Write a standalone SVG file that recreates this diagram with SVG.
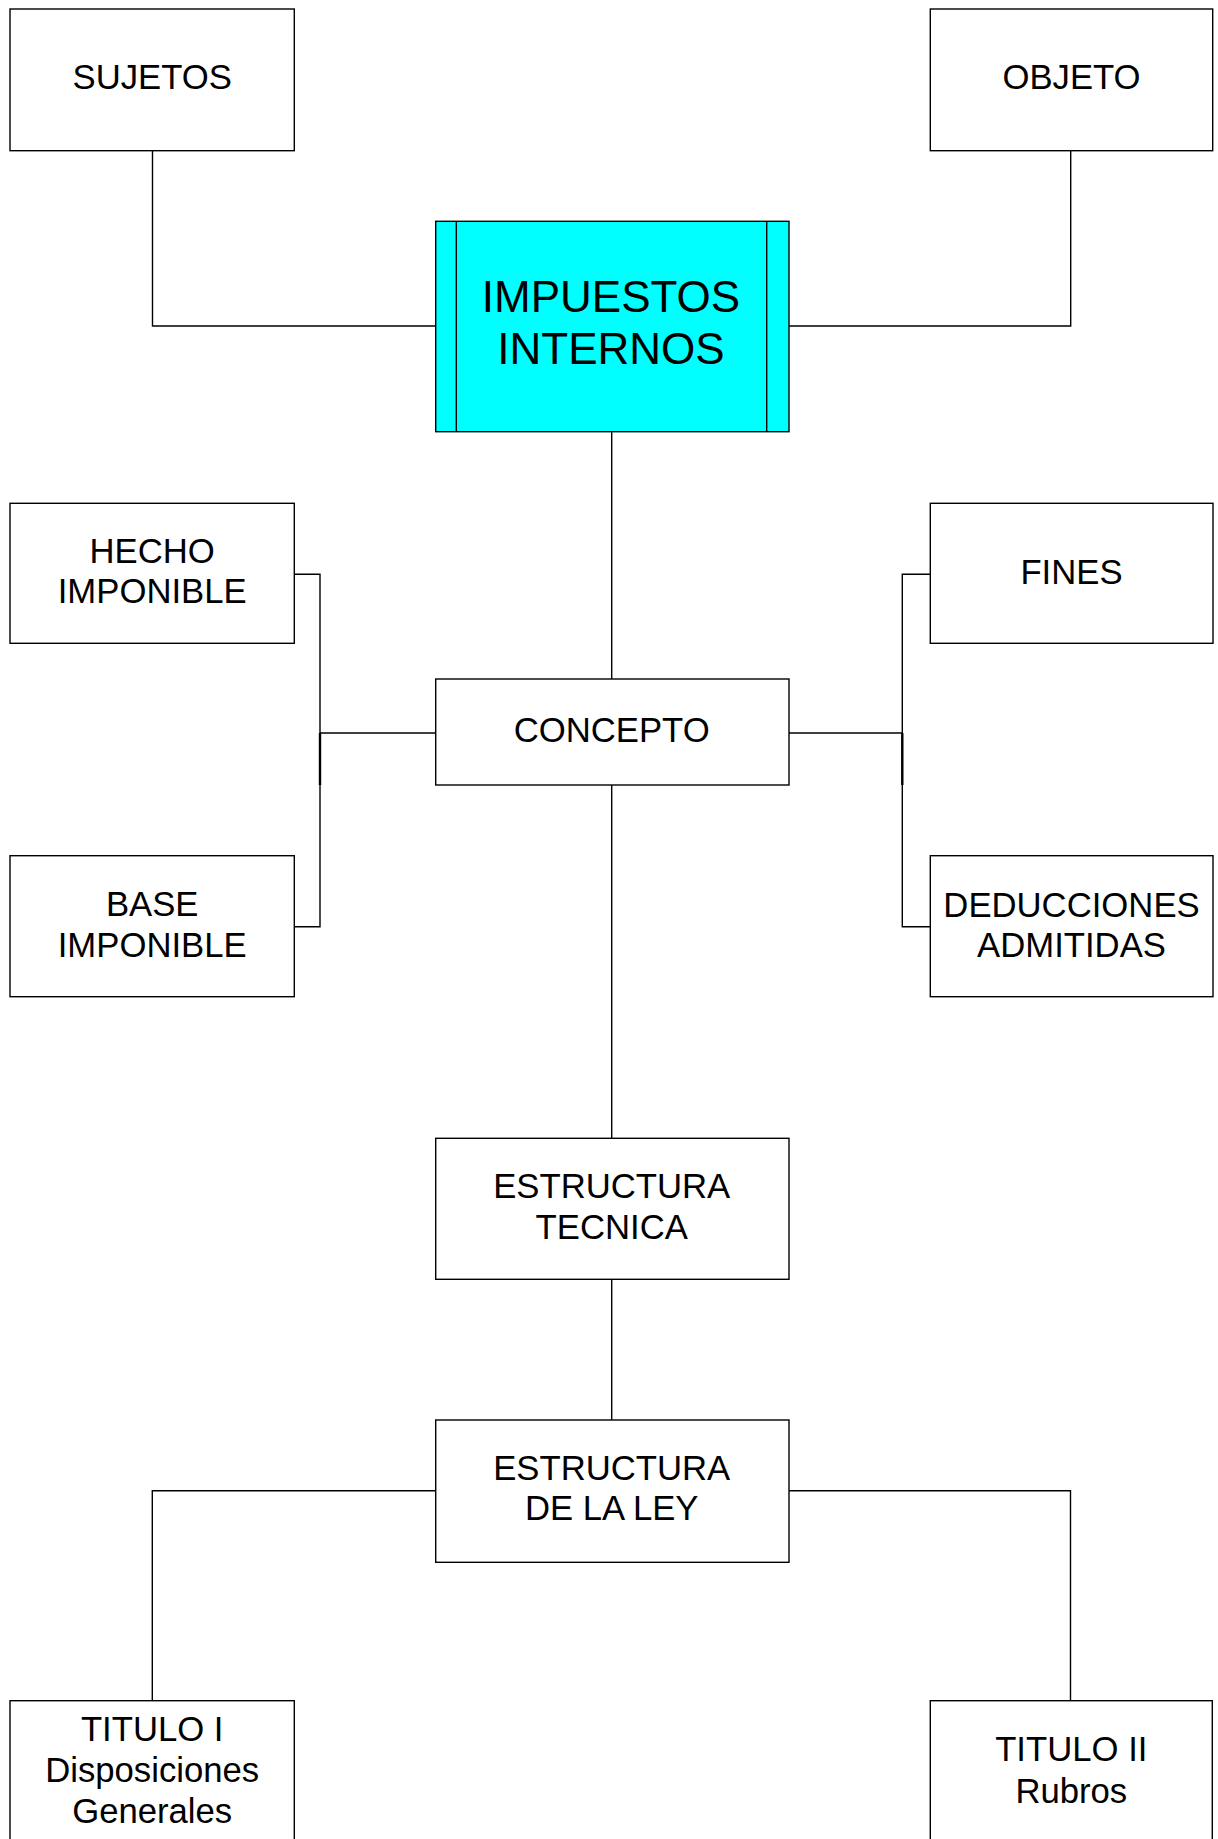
<svg xmlns="http://www.w3.org/2000/svg" width="1218" height="1839" viewBox="0 0 1218 1839">
<style>
.box{fill:#ffffff;stroke:#000000;stroke-width:1.4}
.main{fill:#00ffff;stroke:#000000;stroke-width:1.4}
.ln{fill:none;stroke:#000000;stroke-width:1.4}
.t{font-family:"Liberation Sans",Arial,sans-serif;font-size:34.7px;fill:#000000;text-anchor:middle}
.tb{font-family:"Liberation Sans",Arial,sans-serif;font-size:44px;fill:#000000;text-anchor:middle}
</style>
<rect x="0" y="0" width="1218" height="1839" fill="#ffffff"/>
<g id="connectors">
<polyline class="ln" points="152.5,150.7 152.5,326 435.7,326"/>
<polyline class="ln" points="1070.7,150.7 1070.7,326 789,326"/>
<line class="ln" x1="611.7" y1="431.7" x2="611.7" y2="679"/>
<polyline class="ln" points="294.3,574.3 320,574.3 320,926.7 294.3,926.7"/>
<line class="ln" x1="320" y1="733" x2="435.7" y2="733"/>
<line class="ln" x1="320" y1="733" x2="320" y2="785" style="stroke-width:2.4"/>
<polyline class="ln" points="930.3,574.3 902.3,574.3 902.3,926.7 930.3,926.7"/>
<line class="ln" x1="789" y1="733" x2="902.3" y2="733"/>
<line class="ln" x1="902.3" y1="733" x2="902.3" y2="785" style="stroke-width:2.4"/>
<line class="ln" x1="611.7" y1="785" x2="611.7" y2="1138.3"/>
<line class="ln" x1="611.7" y1="1279.3" x2="611.7" y2="1420"/>
<polyline class="ln" points="435.7,1490.7 152.3,1490.7 152.3,1700.7"/>
<polyline class="ln" points="789,1490.7 1070.5,1490.7 1070.5,1700.7"/>
</g>
<g id="sujetos">
<rect class="box" x="10" y="9" width="284.3" height="141.7"/>
<text class="t" x="152.2" y="89.3">SUJETOS</text>
</g>
<g id="objeto">
<rect class="box" x="930.3" y="9" width="282.4" height="141.7"/>
<text class="t" x="1071.5" y="89.3">OBJETO</text>
</g>
<g id="impuestos-internos">
<rect class="main" x="435.7" y="221.3" width="353.3" height="210.4"/>
<line class="ln" x1="456.3" y1="221.3" x2="456.3" y2="431.7"/>
<line class="ln" x1="766.7" y1="221.3" x2="766.7" y2="431.7"/>
<text class="tb" x="611" y="311.7">IMPUESTOS</text>
<text class="tb" x="611" y="364">INTERNOS</text>
</g>
<g id="hecho-imponible">
<rect class="box" x="10" y="503.3" width="284.3" height="140"/>
<text class="t" x="152.2" y="562.7">HECHO</text>
<text class="t" x="152.2" y="603.3">IMPONIBLE</text>
</g>
<g id="concepto">
<rect class="box" x="435.7" y="679" width="353.3" height="106"/>
<text class="t" x="611.7" y="742">CONCEPTO</text>
</g>
<g id="fines">
<rect class="box" x="930.3" y="503.3" width="282.7" height="140"/>
<text class="t" x="1071.5" y="584.3">FINES</text>
</g>
<g id="base-imponible">
<rect class="box" x="10" y="855.7" width="284.3" height="141"/>
<text class="t" x="152.2" y="916">BASE</text>
<text class="t" x="152.2" y="956.7">IMPONIBLE</text>
</g>
<g id="deducciones-admitidas">
<rect class="box" x="930.3" y="855.7" width="282.7" height="141"/>
<text class="t" x="1071.5" y="916.7">DEDUCCIONES</text>
<text class="t" x="1071.5" y="956.7">ADMITIDAS</text>
</g>
<g id="estructura-tecnica">
<rect class="box" x="435.7" y="1138.3" width="353.3" height="141"/>
<text class="t" x="611.7" y="1198.3">ESTRUCTURA</text>
<text class="t" x="611.7" y="1239">TECNICA</text>
</g>
<g id="estructura-de-la-ley">
<rect class="box" x="435.7" y="1420" width="353.3" height="142.3"/>
<text class="t" x="611.7" y="1480">ESTRUCTURA</text>
<text class="t" x="611.7" y="1520">DE LA LEY</text>
</g>
<g id="titulo-i">
<rect class="box" x="10" y="1700.7" width="284.3" height="141"/>
<text class="t" x="152.2" y="1741">TITULO I</text>
<text class="t" x="152.2" y="1781.7">Disposiciones</text>
<text class="t" x="152.2" y="1822.7">Generales</text>
</g>
<g id="titulo-ii">
<rect class="box" x="930.3" y="1700.7" width="282" height="141"/>
<text class="t" x="1071.3" y="1761">TITULO II</text>
<text class="t" x="1071.3" y="1803.3">Rubros</text>
</g>
</svg>
